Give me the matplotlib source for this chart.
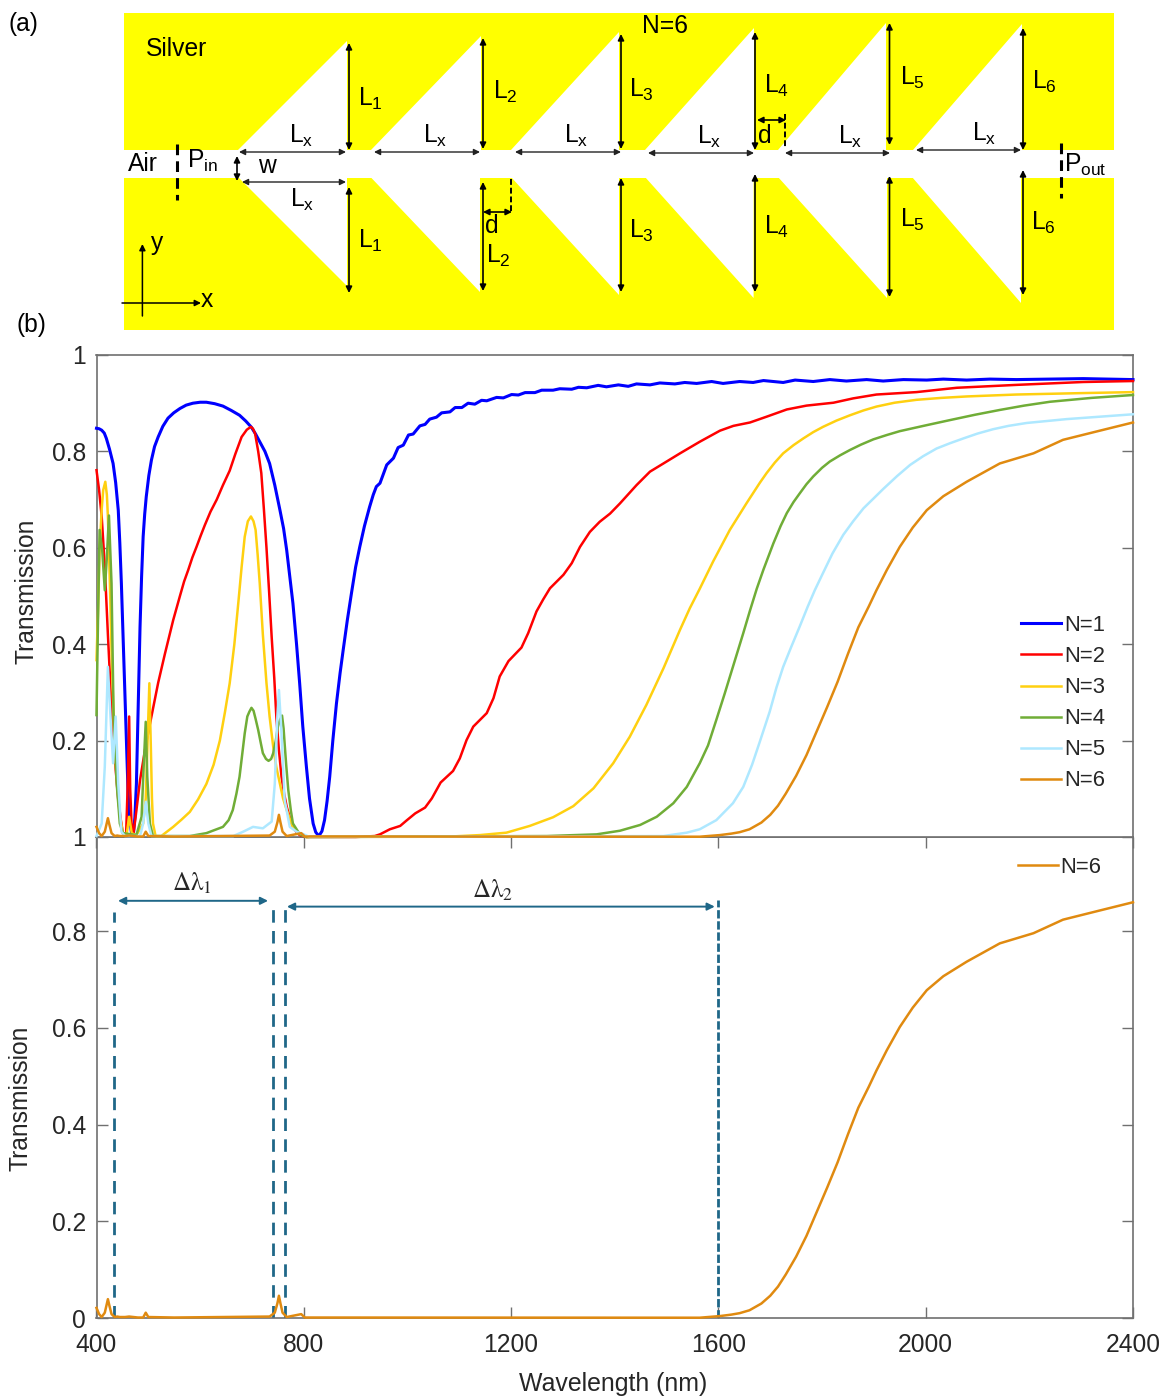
import matplotlib
matplotlib.use("Agg")
import matplotlib.pyplot as plt
from matplotlib.patches import Polygon, Rectangle

plt.rcParams['font.family'] = ['Liberation Sans', 'DejaVu Sans']
plt.rcParams['mathtext.fontset'] = 'custom'
plt.rcParams['mathtext.rm'] = 'Liberation Sans'
plt.rcParams['mathtext.it'] = 'Liberation Sans:italic'
plt.rcParams['mathtext.bf'] = 'Liberation Sans:bold'

W, H = 1164, 1396

# transmission curves (wavelength in nm, T)
wl_n1 = [400, 405, 410, 415, 419, 425, 432, 437, 442, 445, 448, 452, 455, 458, 461, 464, 467.5, 471, 474, 477, 480, 484,
         487, 490, 493, 496, 501, 506, 512, 519, 528, 538, 549, 561, 573, 586, 600, 612, 628, 644, 660, 676, 688, 699,
         707, 715, 725, 734, 744, 754, 761, 767, 773, 779, 786, 792, 798, 805, 811, 818, 823, 829, 835, 840, 845, 850,
         856, 863, 870, 876, 884, 892, 900, 908, 917, 927, 934, 940, 947, 960, 973, 982, 992, 1002, 1011, 1024, 1034,
         1043, 1056, 1066, 1082, 1092, 1105, 1117, 1130, 1143, 1153, 1172, 1185, 1201, 1214, 1227, 1246, 1259, 1281,
         1294, 1317, 1330, 1346, 1368, 1384, 1407, 1426, 1442, 1468, 1487, 1516, 1535, 1558, 1587, 1609, 1641, 1667,
         1687, 1725, 1748, 1783, 1815, 1847, 1886, 1918, 1957, 2002, 2034, 2079, 2124, 2175, 2304, 2400]
t_n1 = [.848, .847, .844, .838, .827, .805, .775, .735, .678, .61, .526, .39, .284, .18, .09, .04, .008, .004, .04, .11, .25, .436,
        .54, .623, .67, .706, .75, .782, .81, .83, .852, .869, .88, .889, .896, .90, .902, .902, .899, .894, .885, .875, .863, .85,
        .836, .82, .80, .775, .73, .678, .64, .595, .54, .485, .40, .319, .23, .146, .08, .028, .01, .002, .012, .035, .075, .125,
        .2, .277, .34, .388, .45, .506, .56, .602, .645, .685, .71, .727, .734, .772, .786, .808, .813, .834, .836, .853, .856,
        .867, .871, .880, .882, .891, .891, .900, .898, .906, .905, .912, .911, .918, .917, .922, .922, .927, .927,
        .930, .929, .933, .932, .937, .934, .938, .935, .940, .938, .942, .940, .943, .941, .945, .941, .945, .943,
        .947, .943, .948, .945, .949, .946, .949, .946, .949, .948, .950, .948, .950, .949, .951, .949]

wl_n2 = [400, 405, 410, 416, 422, 427, 432, 437, 442, 447, 451, 457, 460, 463, 465, 467.5, 471, 477, 484, 495, 506, 519, 532,
         540, 548, 561, 569, 577, 585, 593, 601, 609, 620, 632, 644, 657, 668, 680, 690, 698, 702, 706, 712, 718, 723, 728,
         733, 738, 743, 747, 752, 757, 762, 767, 773, 779, 786, 792, 805, 900, 937, 947, 966, 986, 998, 1015, 1034,
         1047, 1064, 1088, 1101, 1114, 1127, 1153, 1166, 1178, 1195, 1220, 1233, 1249, 1262, 1275, 1301, 1317, 1333,
         1352, 1371, 1391, 1410, 1442, 1468, 1494, 1526, 1564, 1603, 1629, 1661, 1693, 1732, 1770, 1822, 1860, 1905,
         1982, 2060, 2175, 2304, 2400]
t_n2 = [.761, .72, .665, .561, .42, .31, .215, .14, .077, .035, .008, .002, .10, .25, .10, .03, .004, .055, .118, .19, .25, .32, .38,
        .415, .45, .5, .53, .554, .58, .602, .625, .647, .675, .70, .73, .76, .795, .83, .845, .851, .847, .837, .80, .755, .68, .60,
        .51, .415, .33, .25, .18, .125, .09, .063, .04, .02, .01, .004, 0, 0, .002, .0055, .016, .023, .034, .049, .061,
        .08, .113, .137, .163, .201, .229, .257, .288, .333, .365, .393, .423, .468, .493, .516, .544, .568, .602,
        .633, .654, .671, .692, .730, .758, .775, .796, .820, .843, .853, .860, .872, .887, .895, .901, .910, .918,
        .923, .932, .938, .944, .946]

wl_n3 = [400, 403, 406, 410, 413, 417, 420, 422, 426, 429, 435, 445, 451, 458, 463, 468, 477, 490, 495, 498, 502, 505, 507, 509, 514,
         525, 548, 564, 580, 596, 612, 626, 638, 648, 657, 666, 674, 680, 686, 692, 698, 703, 707, 711, 715, 721, 728, 734,
         741, 747, 754, 760, 767, 779, 792, 805, 1076, 1140, 1191, 1236, 1281, 1320, 1359, 1397, 1429, 1461, 1494, 1526,
         1545, 1564, 1590, 1622, 1654, 1680, 1693, 1709, 1725, 1745, 1764, 1783, 1802, 1828, 1854, 1880, 1905, 1940, 1982,
         2030, 2079, 2175, 2304, 2400]
t_n3 = [.367, .47, .595, .68, .72, .737, .71, .665, .52, .388, .18, .042, .008, .004, .042, .008, .004, .028, .08, .18, .319, .18, .08, .028, .002,
        .002, .021, .036, .052, .078, .11, .15, .2, .26, .319, .40, .49, .56, .623, .655, .665, .655, .637, .585, .526, .42, .319, .25,
        .187, .145, .11, .08, .056, .02, .006, 0, .0006, .004, .009, .023, .041, .064, .101, .153, .208, .274, .350, .430,
        .475, .515, .572, .637, .692, .735, .755, .777, .796, .813, .827, .840, .851, .864, .875, .885, .893, .901, .907,
        .911, .914, .918, .921, .923]

wl_n4 = [400, 403, 406, 411, 416, 420, 424, 429, 433, 439, 445, 451, 477, 487, 491, 495, 498, 503, 509, 580, 612, 644, 655, 663,
         670, 676, 681, 686, 691, 695, 699, 703, 707, 712, 717, 721, 727, 732, 737, 741, 746, 750, 754, 758, 761, 763, 766,
         770, 775, 779, 792, 805, 1269, 1365, 1410, 1449, 1481, 1513, 1539, 1564, 1580, 1596, 1612, 1628, 1648, 1661, 1674,
         1687, 1706, 1720, 1732, 1745, 1757, 1770, 1783, 1800, 1815, 1835, 1854, 1875, 1899, 1925, 1950, 2000, 2047, 2095,
         2143, 2190, 2240, 2320, 2400]
t_n4 = [.253, .457, .637, .595, .512, .58, .667, .526, .25, .11, .028, .008, .004, .042, .146, .239, .125, .028, .002, .002, .008, .021, .035, .056,
        .09, .125, .17, .215, .25, .26, .268, .262, .245, .222, .195, .174, .162, .158, .162, .174, .2, .229, .243, .252, .225, .194, .15,
        .098, .055, .028, .006, 0, .002, .0055, .013, .025, .042, .07, .104, .153, .19, .243, .297, .353, .423, .47, .515,
        .555, .609, .645, .672, .695, .713, .732, .748, .766, .779, .792, .803, .814, .825, .834, .842, .854, .865, .876,
        .886, .895, .903, .911, .917]

wl_n5 = [400, 410, 416, 422, 427, 432, 437, 442, 448, 455, 484, 490, 495, 500, 506, 664, 683, 702, 721, 738, 744, 749, 752,
         757, 763, 773, 786, 799, 811, 1494, 1539, 1564, 1596, 1628, 1648, 1665, 1680, 1699, 1712, 1725, 1740, 1757, 1772,
         1786, 1802, 1820, 1841, 1860, 1880, 1900, 1918, 1945, 1970, 1995, 2021, 2047, 2073, 2100, 2130, 2160, 2195, 2272, 2400]
t_n5 = [.002, .028, .146, .353, .25, .153, .25, .11, .011, .002, .002, .028, .073, .028, .002, .002, .011, .021, .018, .032, .11, .25, .305,
        .215, .077, .021, .011, .006, 0, .002, .009, .016, .035, .07, .104, .15, .198, .26, .31, .353, .393, .437, .477,
        .512, .548, .588, .627, .655, .682, .703, .722, .749, .772, .790, .806, .817, .827, .837, .846, .853, .859, .867, .877]

wl_n6 = [400, 405, 410, 416, 419, 422, 425, 429, 435, 440, 445, 455, 463, 480, 490, 495, 500, 550, 734, 744, 749, 752, 755, 759, 767, 795, 802,
         1564, 1603, 1625, 1641, 1660, 1683, 1700, 1715, 1730, 1750, 1770, 1790, 1810, 1830, 1850, 1870, 1890, 1905, 1925, 1950, 1975,
         2002, 2034, 2079, 2143, 2208, 2265, 2336, 2400]
t_n6 = [.021, .008, .002, .011, .025, .039, .025, .008, .002, .003, .002, .002, .003, .001, .001, .011, .002, .001, .003, .011, .03, .046, .03, .011, .002, .008, .001,
        .0006, .004, .007, .010, .016, .030, .046, .065, .09, .127, .170, .22, .27, .322, .38, .435, .478, .512, .554, .602, .642,
        .678, .707, .737, .775, .796, .824, .843, .860]

series_x = [wl_n1, wl_n2, wl_n3, wl_n4, wl_n5, wl_n6]
series_y = [t_n1, t_n2, t_n3, t_n4, t_n5, t_n6]
series_names = ["N=1", "N=2", "N=3", "N=4", "N=5", "N=6"]
series_colors = ["#0000FF", "#FF0000", "#FFD010", "#70AD37", "#AEE8FF", "#E08A10"]
series_lw = [2.2, 1.8, 1.8, 1.8, 1.8, 1.8]

x_ticks = [400, 800, 1200, 1600, 2000, 2400]
# the picture really prints "1" where the two panels meet
upper_yticks = [0, 0.2, 0.4, 0.6, 0.8, 1]
upper_ylabels = ["1", "0.2", "0.4", "0.6", "0.8", "1"]
lower_yticks = [0, 0.2, 0.4, 0.6, 0.8]
lower_ylabels = ["0", "0.2", "0.4", "0.6", "0.8"]

# band edges in the lower panel
band_x = [434, 740.5, 763.6, 1600]
band_top = [.84, .859, .853, .865]

# schematic geometry, in image pixels: (base start, tip x, tip y)
top_notches = [(238, 347, 41), (371, 481, 36), (511, 619, 32), (645, 754, 28), (778, 886, 23), (913, 1022, 24)]
bottom_notches = [(238, 347, 286), (370.5, 480, 292), (511, 619, 295), (645, 753.6, 298), (778, 887, 298), (912, 1021, 303)]
l_arrows_top = [(349, 43, 150), (483, 38, 149), (621, 34, 149), (755, 32, 150), (889.5, 23, 145), (1023, 28, 150)]
l_arrows_bottom = [(349, 187, 293), (483, 182, 291), (621, 178, 292), (755, 174, 292), (889.5, 176, 297), (1023, 170, 295)]
lx_arrows = [(239, 346, 152), (374, 480, 152), (515, 621, 152), (648, 754, 153), (785, 890, 153), (916, 1021, 150), (242, 346, 182)]
l_labels = [("1", 358, 106), ("1", 358, 248), ("2", 493, 99), ("2", 486, 263), ("3", 629, 97), ("3", 629, 238),
            ("4", 764, 93), ("4", 764, 234), ("5", 900, 85), ("5", 900, 227), ("6", 1032, 89), ("6", 1031, 230)]
lx_labels = [(289, 143), (423, 143), (564, 143), (697, 144), (838, 144), (972, 141), (290, 207)]

fs = 17.7
tick_col = "#262626"
spine_col = "#707070"
dash_col = "#1F6788"

fig = plt.figure(figsize=(W / 100, H / 100), dpi=100)


def axes_px(left, top, right, bottom):
    return fig.add_axes([left / W, 1 - bottom / H, (right - left) / W, (bottom - top) / H])


def style_axes(ax, yticks, ylabels, ytop):
    ax.set_xlim(400, 2400)
    ax.set_ylim(0, ytop)
    ax.set_yticks(yticks)
    ax.set_yticklabels(ylabels)
    for s in ax.spines.values():
        s.set_color(spine_col)
        s.set_linewidth(1.2)
    ax.tick_params(axis='y', direction='in', length=8, width=1, color=spine_col, right=True,
                   labelsize=fs, labelcolor=tick_col, pad=7.5)


# lower panel
ax2 = axes_px(96.5, 837, 1133, 1318)
for bx, bt, dsh in zip(band_x, band_top, [(4.5, 3), (4.5, 3), (4.5, 3), (3, 1)]):
    ax2.plot([bx, bx], [0, bt], color=dash_col, lw=2, dashes=dsh)
ax2.plot(wl_n6, t_n6, color=series_colors[5], lw=1.8, label="N=6", clip_on=False, zorder=4)
style_axes(ax2, lower_yticks, lower_ylabels, 0.995)
ax2.set_xticks(x_ticks)
ax2.tick_params(axis='x', direction='in', length=8, width=1, color=spine_col, top=True,
                labelsize=fs, labelcolor=tick_col, pad=11)
ax2.legend(loc='upper left', bbox_to_anchor=((1018 - 96.5) / 1036.5, 1 - (857 - 837) / 481), frameon=False,
           fontsize=15.8, handlelength=1.82, handletextpad=0.1, borderpad=0, borderaxespad=0, labelcolor=tick_col)
for x0, x1, yy in [(441.5, 731, .863), (767.5, 1593, .851)]:
    ax2.annotate("", xy=(x0, yy), xytext=(x1, yy),
                 arrowprops=dict(arrowstyle='<|-|>', color=dash_col, lw=1.4, mutation_scale=11, shrinkA=0, shrinkB=0))

# upper panel, on top so the curves sit over the shared axis line
ax1 = axes_px(96.5, 355, 1133, 837)
ax1.set_zorder(2)
for xs, ys, name, col, lw in zip(series_x, series_y, series_names, series_colors, series_lw):
    ax1.plot(xs, ys, color=col, lw=lw, label=name, solid_joinstyle='round', clip_on=False, zorder=4)
style_axes(ax1, upper_yticks, upper_ylabels, 1)
ax1.set_xticks([])
ax1.legend(loc='upper left', bbox_to_anchor=((1021 - 96.5) / 1036.5, 1 - (615 - 355) / 482), frameon=False,
           fontsize=15.8, handlelength=1.82, handletextpad=0.13, labelspacing=0.46, borderpad=0, borderaxespad=0,
           labelcolor=tick_col)

# schematic and free text, drawn in image pixels
ov = fig.add_axes([0, 0, 1, 1])
ov.set_xlim(0, W)
ov.set_ylim(H, 0)
ov.axis('off')
ov.set_zorder(5)

ov.add_patch(Rectangle((124, 13), 990, 317, fc="#FFFF00", ec='none'))
ov.add_patch(Rectangle((124, 149.5), 990, 28.2, fc="white", ec='none'))
for x0, tx, ty in top_notches:
    ov.add_patch(Polygon([(x0, 150), (tx, ty), (tx, 150)], fc="white", ec='none'))
for x0, tx, ty in bottom_notches:
    ov.add_patch(Polygon([(x0, 177), (tx, ty), (tx, 177)], fc="white", ec='none'))


def arrow(x0, y0, x1, y1, style='<|-|>', ms=9, lw=1.2, col='black'):
    ov.annotate("", xy=(x1, y1), xytext=(x0, y0),
                arrowprops=dict(arrowstyle=style, color=col, lw=lw, mutation_scale=ms, shrinkA=0, shrinkB=0))


def label(x, y, s, **kw):
    kw.setdefault('fontsize', fs)
    kw.setdefault('color', 'black')
    ov.text(x, y, s, ha=kw.pop('ha', 'left'), va=kw.pop('va', 'baseline'), **kw)


for x, y0, y1 in l_arrows_top + l_arrows_bottom:
    arrow(x, y0, x, y1)
for x0, x1, y in lx_arrows:
    arrow(x0, y, x1, y, lw=1.0, col='#222222')
arrow(237, 156, 237, 181)
arrow(483, 212, 512, 212)
arrow(757, 120, 786, 120)
ov.plot([511, 511], [179, 212], color='black', lw=1.4, dashes=(3, 1.5))
ov.plot([785, 785], [114, 147], color='black', lw=1.4, dashes=(3, 1.5))
ov.plot([177, 177], [144, 200], color='black', lw=2.2, dashes=(3.5, 2))
ov.plot([1060.5, 1060.5], [143, 198], color='black', lw=2.2, dashes=(3.5, 2))
arrow(142.4, 316, 142.4, 244, style='-|>', lw=1.1)
arrow(122, 303, 201, 303, style='-|>', lw=1.1)

for sub, x, y in l_labels:
    label(x, y, "L$_{\\mathrm{%s}}$" % sub)
for x, y in lx_labels:
    label(x, y, "L$_{\\mathrm{x}}$")
label(145.5, 55.7, "Silver")
label(642, 33, "N=6")
label(128, 171, "Air")
label(187, 168, "P$_{\\mathrm{in}}$")
label(1064, 172, "P$_{\\mathrm{out}}$")
label(258.5, 173, "w")
label(485, 233, "d")
label(758, 143, "d")
label(200.7, 306.7, "x")
label(151, 250, "y")
label(9, 31, "(a)")
label(17, 332, "(b)")

label(192, 891, "$\\mathrm{\\Delta\\lambda}_{1}$", ha='center', color=tick_col, math_fontfamily='stix', fontsize=18)
label(493, 898, "$\\mathrm{\\Delta\\lambda}_{2}$", ha='center', color=tick_col, math_fontfamily='stix', fontsize=18)
label(27, 591, "Transmission", ha='center', va='center', rotation=90, color=tick_col)
label(21, 1098, "Transmission", ha='center', va='center', rotation=90, color=tick_col)
label(613, 1384, "Wavelength (nm)", ha='center', va='center', color=tick_col, fontsize=17.9)

fig.savefig("out.png", dpi=100)
